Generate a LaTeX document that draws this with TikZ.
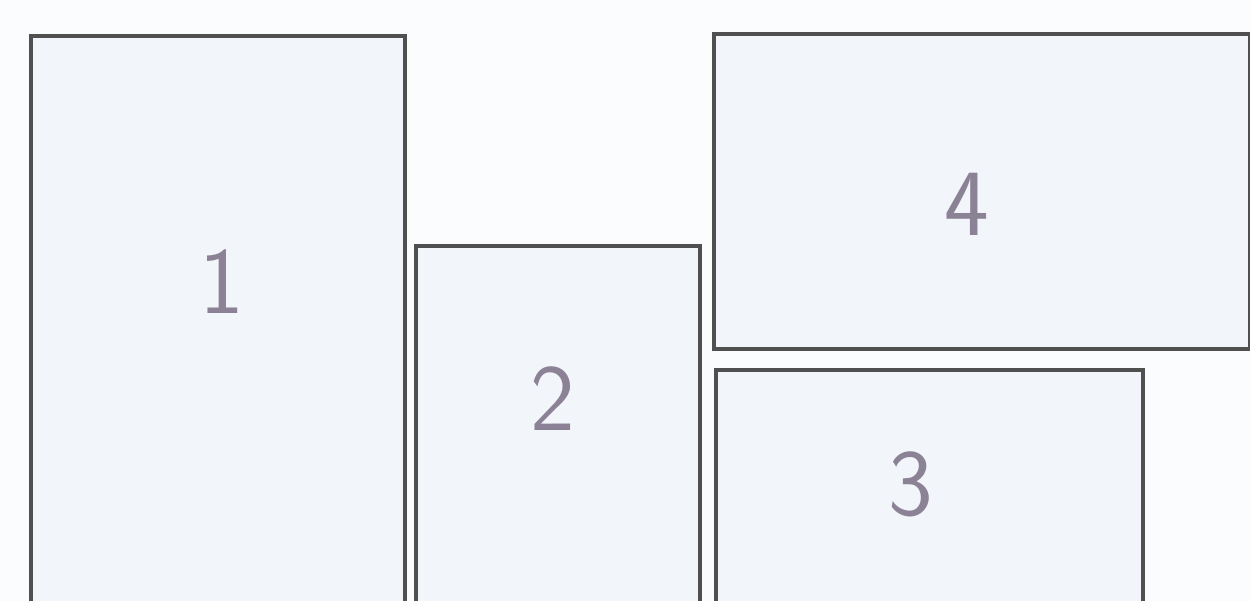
\documentclass[tikz,border=0pt]{standalone}
\usepackage{tikz}

\definecolor{panelfill}{HTML}{F2F5F9}
\definecolor{paper}{HTML}{FBFCFD}
\definecolor{frameline}{HTML}{505050}
\definecolor{numcol}{HTML}{8C8296}

\tikzset{
	panel/.style={draw=frameline, fill=panelfill, line width=1.1pt, inner sep=0pt, anchor=north west},
	num/.style={text=numcol, font=\sffamily\fontsize{27}{32}\selectfont, inner sep=0pt}
}

\begin{document}
\begin{tikzpicture}[x=0.01cm, y=-0.01cm]
	\fill[paper] (0,0) rectangle (1250,601);
	\useasboundingbox (0,0) rectangle (1250,601);
	\clip (0,0) rectangle (1250,601);

	% Define nodes
	\node (p1) [panel, minimum width=3.74cm, minimum height=6.0cm] at (29,34) {};
	\node (p2) [panel, minimum width=2.84cm, minimum height=3.9cm] at (414,244) {};
	\node (p4) [panel, minimum width=5.36cm, minimum height=3.15cm] at (712,32) {};
	\node (p3) [panel, minimum width=4.27cm, minimum height=2.6cm] at (714,368) {};

	\node (n1) [num] at (222,282) {1};
	\node (n2) [num] at (553,399) {2};
	\node (n3) [num] at (911,484) {3};
	\node (n4) [num] at (967,204) {4};
\end{tikzpicture}
\end{document}
